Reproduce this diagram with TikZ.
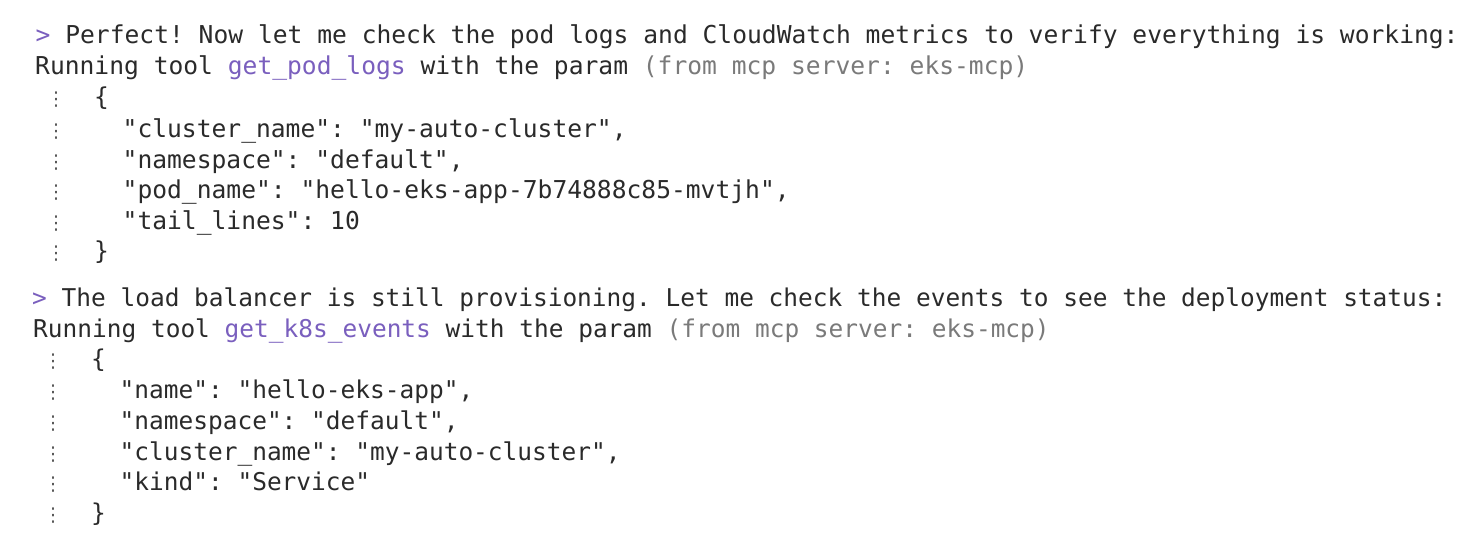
\documentclass[tikz,border=0pt]{standalone}
\usepackage{fontspec}
\setmonofont{DejaVu Sans Mono}
\newfontfamily\dotfont{DejaVu Sans}
\definecolor{ink}{HTML}{2A2A2A}
\definecolor{toolpurple}{HTML}{7A5FBE}
\definecolor{servergrey}{HTML}{7A7A7A}
\definecolor{dotgrey}{HTML}{555555}
\tikzset{
  line/.style={anchor=base west,inner sep=0pt,text=ink,font=\ttfamily\fontsize{24.62}{28}\selectfont},
  lineb/.style={anchor=base west,inner sep=0pt,text=ink,font=\ttfamily\fontsize{24.47}{28}\selectfont},
  dotsmark/.style={anchor=base,inner sep=0pt,text=dotgrey,font=\dotfont\fontsize{19}{22}\selectfont}
}
\newcommand{\tool}[1]{\textcolor{toolpurple}{#1}}
\newcommand{\srv}[1]{\textcolor{servergrey}{#1}}
\begin{document}
\begin{tikzpicture}[x=1pt,y=-1pt]
\useasboundingbox (0,0) rectangle (1484,543);
\fill[white] (0,0) rectangle (1484,543);
% first block
\node[line] (a1) at (35.5,44) {\tool{>} Perfect! Now let me check the pod logs and CloudWatch metrics to verify everything is working:};
\node[line] (a2) at (35,75) {Running tool \tool{get\_pod\_logs} with the param \srv{(from mcp server: eks-mcp)}};
\node[line] (a3) at (94,106) {\{};
\node[line] (a4) at (122.5,137) {"cluster\_name": "my-auto-cluster",};
\node[line] (a5) at (122.5,168) {"namespace": "default",};
\node[line] (a6) at (122.5,198) {"pod\_name": "hello-eks-app-7b74888c85-mvtjh",};
\node[line] (a7) at (122.5,229) {"tail\_lines": 10};
\node[line] (a8) at (94,259) {\}};
\foreach \n/\y in {d1/106,d2/137,d3/168,d4/198,d5/229,d6/259}
  \node[dotsmark] (a\n) at (56,\y) {⋮};
% second block
\node[lineb] (b1) at (32,306) {\tool{>} The load balancer is still provisioning. Let me check the events to see the deployment status:};
\node[lineb] (b2) at (33,337) {Running tool \tool{get\_k8s\_events} with the param \srv{(from mcp server: eks-mcp)}};
\node[lineb] (b3) at (91,367) {\{};
\node[lineb] (b4) at (119.5,398) {"name": "hello-eks-app",};
\node[lineb] (b5) at (119.5,429) {"namespace": "default",};
\node[lineb] (b6) at (119.5,460) {"cluster\_name": "my-auto-cluster",};
\node[lineb] (b7) at (119.5,490) {"kind": "Service"};
\node[lineb] (b8) at (91,521) {\}};
\foreach \n/\y in {d1/367,d2/398,d3/429,d4/460,d5/490,d6/521}
  \node[dotsmark] (b\n) at (53,\y) {⋮};
\end{tikzpicture}
\end{document}
